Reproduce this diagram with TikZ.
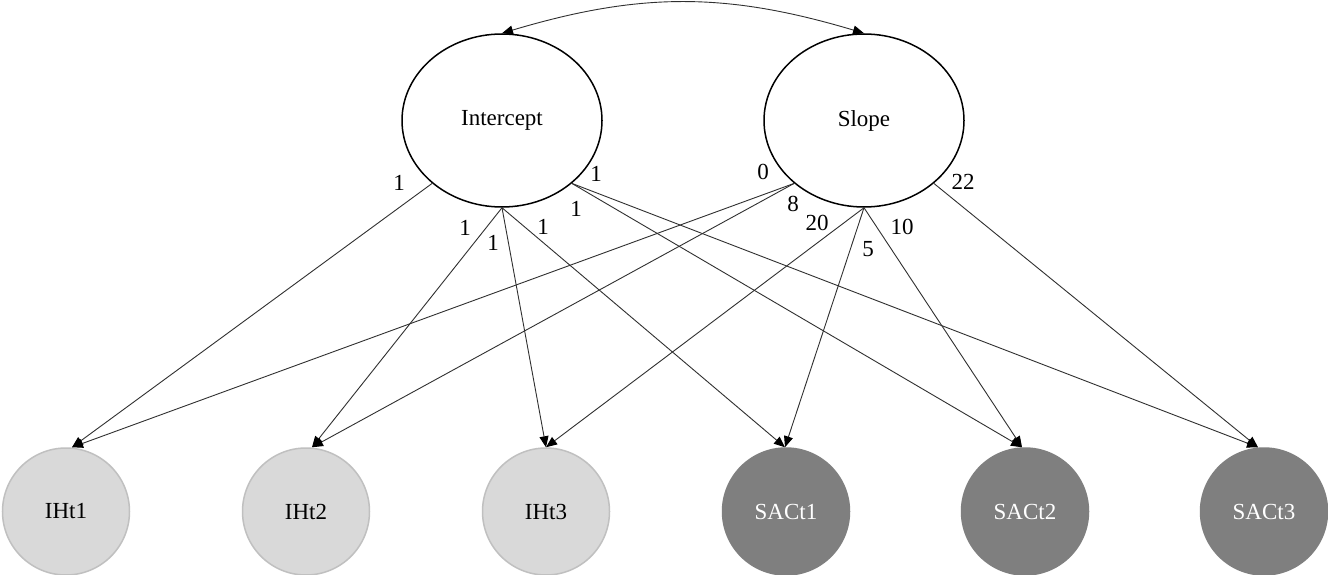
\documentclass[tikz,border=0pt]{standalone}
\usepackage{fontspec}
\setmainfont{Liberation Serif}
\usetikzlibrary{arrows.meta,shapes.geometric}
\definecolor{lgray}{HTML}{D9D9D9}
\definecolor{lgrayline}{HTML}{C0C0C0}
\definecolor{dgray}{HTML}{7F7F7F}
\definecolor{edgecol}{HTML}{303030}
\begin{document}
\begin{tikzpicture}[x=1pt,y=-1pt,
  font=\fontsize{23}{27}\selectfont,
  >={Triangle[length=11pt,width=9pt,color=black]},
  latent/.style={ellipse,draw=black,line width=1.5pt,minimum width=200pt,minimum height=173pt,inner sep=0pt},
  ind/.style={circle,minimum size=127pt,inner sep=0pt,line width=1.5pt},
  light/.style={ind,fill=lgray,draw=lgrayline},
  dark/.style={ind,fill=dgray,draw=dgray,text=white},
  load/.style={draw=edgecol,line width=0.9pt,->},
  cov/.style={draw=edgecol,line width=0.9pt,<->},
  lbl/.style={inner sep=0pt}
]
\useasboundingbox[fill=white] (0,0) rectangle (1328,575);

% growth factors
\node[latent] (I) at (502,120.5) {Intercept};
\node[latent] (S) at (864,120.5) {Slope};

% repeated measures
\node[light] (IH1) at (66,511.5) {IHt1};
\node[light] (IH2) at (306,511.5) {IHt2};
\node[light] (IH3) at (546,511.5) {IHt3};
\node[dark] (SA1) at (786,511.5) {SACt1};
\node[dark] (SA2) at (1025,511.5) {SACt2};
\node[dark] (SA3) at (1264,511.5) {SACt3};

% arrival points on the indicators
\coordinate (e1) at ([xshift=6pt]IH1.north);
\coordinate (e2) at ([xshift=6pt]IH2.north);
\coordinate (e3) at ([xshift=0pt]IH3.north);
\coordinate (e4) at ([xshift=-1pt]SA1.north);
\coordinate (e5) at ([xshift=-3pt]SA2.north);
\coordinate (e6) at ([xshift=-6pt]SA3.north);

% factor covariance
\draw[cov] (I.north) .. controls (640,-8) and (726,-8) .. (S.north);

% intercept loadings
\draw[load] (I.222) -- (e1);
\draw[load] (I.270) -- (e2);
\draw[load] (I.270) -- (e3);
\draw[load] (I.270) -- (e4);
\draw[load] (I.318) -- (e5);
\draw[load] (I.318) -- (e6);

% slope loadings
\draw[load] (S.222) -- (e1);
\draw[load] (S.222) -- (e2);
\draw[load] (S.270) -- (e3);
\draw[load] (S.270) -- (e4);
\draw[load] (S.270) -- (e5);
\draw[load] (S.318) -- (e6);

% loading values
\node[lbl] (li1) at (399,183) {1};
\node[lbl] (li2) at (465,228) {1};
\node[lbl] (li3) at (493,243) {1};
\node[lbl] (li4) at (543,227) {1};
\node[lbl] (li5) at (576,209) {1};
\node[lbl] (li6) at (596,174) {1};
\node[lbl] (ls1) at (763,172) {0};
\node[lbl] (ls2) at (793,204) {8};
\node[lbl] (ls3) at (817,223) {20};
\node[lbl] (ls4) at (868,249) {5};
\node[lbl] (ls5) at (902,227) {10};
\node[lbl] (ls6) at (963,182) {22};
\end{tikzpicture}
\end{document}
